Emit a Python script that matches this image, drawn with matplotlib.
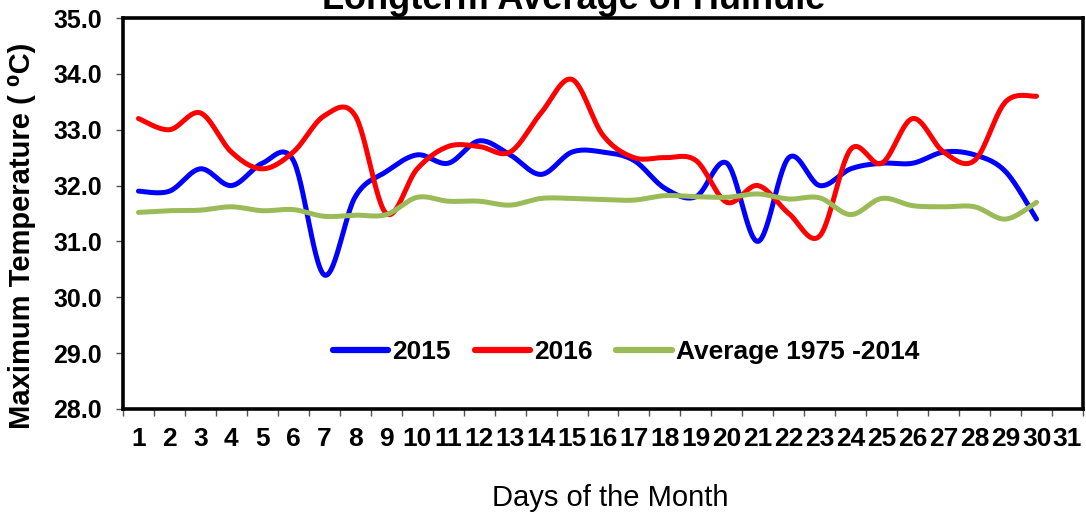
import matplotlib
matplotlib.use("Agg")
import matplotlib.pyplot as plt
import numpy as np

plt.rcParams['font.family'] = ['Liberation Sans', 'DejaVu Sans']

# Data
days = list(range(1, 32))
temp_2015 = [31.9, 31.9, 32.3, 32.0, 32.4, 32.45, 30.4, 31.8, 32.25, 32.55,
             32.4, 32.8, 32.55, 32.2, 32.6, 32.6, 32.45, 31.95, 31.8, 32.4,
             31.0, 32.5, 32.0, 32.3, 32.4, 32.4, 32.6, 32.55, 32.25, 31.4]
temp_2016 = [33.2, 33.0, 33.3, 32.6, 32.3, 32.6, 33.25, 33.25, 31.5, 32.3,
             32.7, 32.7, 32.6, 33.3, 33.9, 32.9, 32.5, 32.5, 32.45, 31.7,
             32.0, 31.5, 31.1, 32.65, 32.4, 33.2, 32.6, 32.45, 33.5, 33.6]
temp_avg = [31.52, 31.55, 31.56, 31.62, 31.55, 31.57, 31.45, 31.47, 31.48, 31.79,
            31.72, 31.72, 31.65, 31.77, 31.77, 31.75, 31.74, 31.82, 31.8, 31.79,
            31.85, 31.76, 31.78, 31.48, 31.77, 31.64, 31.62, 31.62, 31.4, 31.7]
series_names = ["2015", "2016", "Average 1975 -2014"]
series_colors = ["#0000ff", "#ff0000", "#9bbb59"]


def smooth(x, y, n=30):
    # Excel-style smoothed line (Catmull-Rom as cubic Bezier)
    x = np.asarray(x, float)
    y = np.asarray(y, float)
    px = np.concatenate([[x[0]], x, [x[-1]]])
    py = np.concatenate([[y[0]], y, [y[-1]]])
    t = np.linspace(0, 1, n)[:, None]
    xs, ys = [], []
    for i in range(1, len(px) - 2):
        p0 = np.array([px[i], py[i]])
        p3 = np.array([px[i + 1], py[i + 1]])
        c1 = p0 + (np.array([px[i + 1], py[i + 1]]) - np.array([px[i - 1], py[i - 1]])) / 6
        c2 = p3 - (np.array([px[i + 2], py[i + 2]]) - np.array([px[i], py[i]])) / 6
        pts = ((1 - t) ** 3) * p0 + 3 * ((1 - t) ** 2) * t * c1 + 3 * (1 - t) * t ** 2 * c2 + t ** 3 * p3
        xs.append(pts[:, 0])
        ys.append(pts[:, 1])
    return np.concatenate(xs), np.concatenate(ys)


fig = plt.figure(figsize=(10.86, 5.14), dpi=100)
ax = fig.add_axes([123 / 1086, 105 / 514, 960 / 1086, 391 / 514])

for vals, name, col in zip([temp_2015, temp_2016, temp_avg], series_names, series_colors):
    sx, sy = smooth(days[:len(vals)], vals)
    ax.plot(sx, sy, color=col, lw=3.6, label=name, solid_capstyle='round')

ax.set_xlim(0.5, 31.5)
ax.set_ylim(28, 35)
ax.set_yticks(np.arange(28, 35.01, 1))
ax.set_yticklabels([f"{v:.1f}" for v in np.arange(28, 35.01, 1)],
                   fontsize=18, fontweight='bold')
ax.set_xticks(np.arange(0.5, 31.6, 1))
ax.set_xticklabels([])
ax.set_xticks(days, minor=True)
ax.set_xticklabels([str(d) for d in days], minor=True, fontsize=19, fontweight='bold')
ax.tick_params(axis='x', which='major', direction='out', length=5, width=1, color='#555555')
ax.tick_params(axis='x', which='minor', length=0, pad=13)
ax.tick_params(axis='y', direction='out', length=5, width=1, color='#555555', pad=10)

for s in ax.spines.values():
    s.set_linewidth(2.6)
    s.set_color('black')

fig.text(22 / 1086, 1 - 236 / 514, "Maximum Temperature ( \u2070C)", rotation=90,
         ha='center', va='center', fontsize=21, fontweight='bold')
fig.text(610 / 1086, 1 - 498 / 514, "Days of the Month", ha='center', va='center', fontsize=21)
fig.text(574 / 1086, 1 - 9 / 514, "Longterm Average of Hulhule", ha='center', va='baseline',
         fontsize=26, fontweight='bold')

leg = ax.legend(loc='center', bbox_to_anchor=(0.524, 0.146), ncol=3, frameon=False,
                prop={'size': 19, 'weight': 'bold'}, handlelength=2.1,
                handletextpad=0.15, columnspacing=0.9)
for h in leg.get_lines():
    h.set_linewidth(4.5)

fig.savefig("out.png", dpi=100)
